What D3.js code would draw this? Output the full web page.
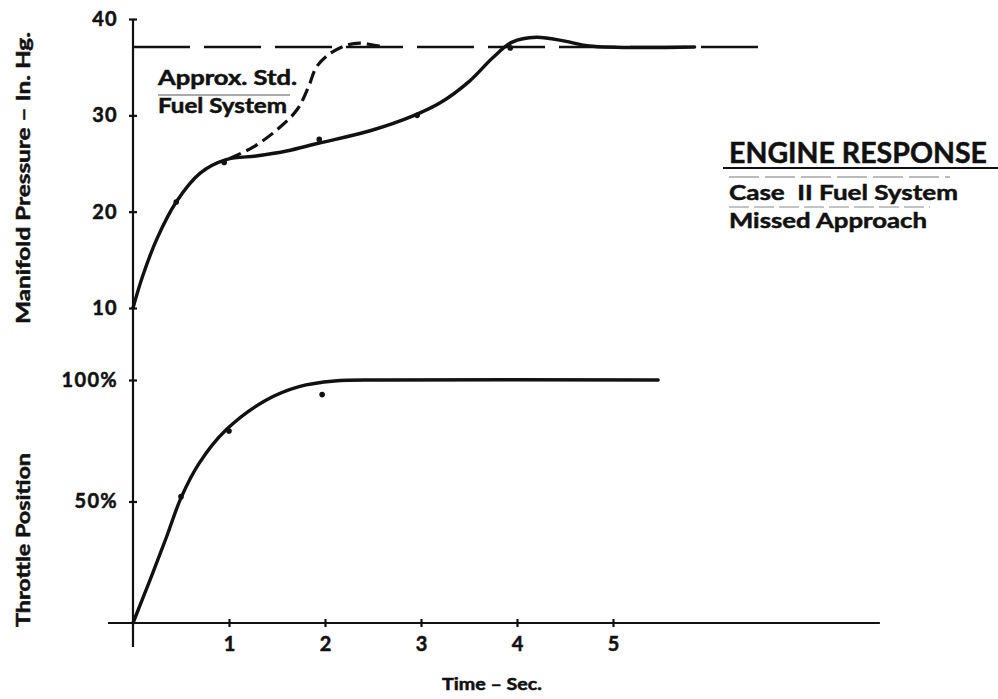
<!DOCTYPE html>
<html>
<head>
<meta charset="utf-8">
<script src="https://cdn.jsdelivr.net/npm/d3@7"></script>
<style>
  body { margin: 0; background: #fff; }
  text { font-family: Lato, "DejaVu Sans", sans-serif; font-weight: 700; fill: #111;
         stroke: #111; stroke-width: 0.5px; paint-order: stroke; }
</style>
</head>
<body>
<div id="chart"></div>
<script>
// Dati (tempo in secondi)
const timeTicks = [1, 2, 3, 4, 5];
const pressureTicks = [10, 20, 30, 40];
const throttleTicks = [50, 100];
const stdPressureLevel = 37.1;

// Pressione collettore - Case II (curva continua)
const caseTime = [0, 0.1, 0.25, 0.45, 0.7, 0.97, 1.3, 1.6, 1.93, 2.47, 2.93, 3.2, 3.5, 3.75, 3.95, 4.2, 4.5, 4.75, 5.85];
const casePressure = [10, 13.3, 17.2, 21.0, 24.0, 25.4, 25.8, 26.3, 27.1, 28.4, 30.0, 31.3, 33.5, 36.0, 37.6, 38.1, 37.7, 37.2, 37.1];
const caseDotTime = [0.45, 0.95, 1.94, 2.96, 3.93];
const caseDotPressure = [21.0, 25.1, 27.5, 30.0, 37.0];

// Sistema standard approssimato (curva tratteggiata)
const stdTime = [1.0, 1.25, 1.5, 1.71, 1.83, 1.91, 2.05, 2.23, 2.36, 2.5, 2.62];
const stdPressure = [25.5, 26.7, 28.5, 30.6, 33.0, 35.0, 36.4, 37.3, 37.5, 37.3, 37.1];
const stdLineTime = [0, 6.6];

// Posizione farfalla
const throttleTime = [0, 0.18, 0.35, 0.5, 0.69, 0.97, 1.38, 1.73, 2.1, 2.6, 5.47];
const throttleValue = [0, 18, 35.5, 51.5, 65.8, 79.5, 91.6, 97.3, 99.6, 100, 100];
const throttleDotTime = [0.5, 1.0, 1.97];
const throttleDotValue = [52, 79, 94];

const width = 998;
const height = 699;

const svg = d3.select("#chart")
    .append("svg")
    .attr("width", width)
    .attr("height", height);

// Scale
const x = d3.scaleLinear().domain([0, 5]).range([133, 613]);
const yP = d3.scaleLinear().domain([10, 40]).range([308, 19]);
const yT = d3.scaleLinear().domain([0, 100]).range([623, 380]);

const zip = (a, b) => a.map((v, i) => [v, b[i]]);

// Assi
const axisColor = "#111";
svg.append("line")
    .attr("x1", x(0)).attr("x2", x(0))
    .attr("y1", yP(40)).attr("y2", yT(0) + 24)
    .attr("stroke", axisColor).attr("stroke-width", 2.2);

svg.append("line")
    .attr("x1", x(-0.26)).attr("x2", x(7.78))
    .attr("y1", yT(0)).attr("y2", yT(0))
    .attr("stroke", axisColor).attr("stroke-width", 2.2);

function styleAxis(g, horizontal) {
    g.select(".domain").remove();
    g.selectAll(".tick line")
        .attr("stroke", axisColor)
        .attr("stroke-width", 2.2)
        .attr(horizontal ? "y1" : "x1", -4)
        .attr(horizontal ? "y2" : "x2", 4);
    g.selectAll(".tick text")
        .style("font-size", "20px")
        .style("font-weight", 700)
        .style("letter-spacing", horizontal ? "0px" : "1.3px")
        .attr("fill", "#111");
}

svg.append("g")
    .attr("transform", `translate(${x(0)},0)`)
    .call(d3.axisLeft(yP).tickValues(pressureTicks).tickSize(4).tickPadding(11).tickFormat(d3.format("d")))
    .call(g => styleAxis(g, false));

svg.append("g")
    .attr("transform", `translate(${x(0)},0)`)
    .call(d3.axisLeft(yT).tickValues(throttleTicks).tickSize(4).tickPadding(11).tickFormat(d => d + "%"))
    .call(g => styleAxis(g, false));

svg.append("g")
    .attr("transform", `translate(0,${yT(0)})`)
    .call(d3.axisBottom(x).tickValues(timeTicks).tickSize(4).tickPadding(10).tickFormat(d3.format("d")))
    .call(g => styleAxis(g, true));

// Linea di riferimento tratteggiata
svg.append("line")
    .attr("x1", x(stdLineTime[0])).attr("x2", x(stdLineTime[1]))
    .attr("y1", yP(stdPressureLevel)).attr("y2", yP(stdPressureLevel))
    .attr("stroke", "#111").attr("stroke-width", 2.4)
    .attr("stroke-dasharray", "57,14");

// Curve
const linePress = d3.line()
    .x(d => x(d[0])).y(d => yP(d[1]))
    .curve(d3.curveCatmullRom.alpha(0.5));
const lineThrottle = d3.line()
    .x(d => x(d[0])).y(d => yT(d[1]))
    .curve(d3.curveCatmullRom.alpha(0.5));

svg.append("path")
    .datum(zip(stdTime, stdPressure))
    .attr("d", linePress)
    .attr("fill", "none").attr("stroke", "#111")
    .attr("stroke-width", 3.2)
    .attr("stroke-dasharray", "13,6");

svg.append("path")
    .datum(zip(caseTime, casePressure))
    .attr("d", linePress)
    .attr("fill", "none").attr("stroke", "#111")
    .attr("stroke-width", 3.4)
    .attr("stroke-linecap", "round");

svg.append("path")
    .datum(zip(throttleTime, throttleValue))
    .attr("d", lineThrottle)
    .attr("fill", "none").attr("stroke", "#111")
    .attr("stroke-width", 3.4)
    .attr("stroke-linecap", "round");

// Punti sperimentali
svg.selectAll(".pdot")
    .data(zip(caseDotTime, caseDotPressure))
    .join("circle")
    .attr("class", "pdot")
    .attr("cx", d => x(d[0])).attr("cy", d => yP(d[1]))
    .attr("r", 2.8).attr("fill", "#111");

svg.selectAll(".tdot")
    .data(zip(throttleDotTime, throttleDotValue))
    .join("circle")
    .attr("class", "tdot")
    .attr("cx", d => x(d[0])).attr("cy", d => yT(d[1]))
    .attr("r", 2.8).attr("fill", "#111");

// Titoli assi
svg.append("text")
    .attr("transform", "translate(30,178) rotate(-90)")
    .attr("text-anchor", "middle")
    .attr("textLength", 292).attr("lengthAdjust", "spacingAndGlyphs")
    .style("font-size", "18px")
    .text("Manifold Pressure – In. Hg.");

svg.append("text")
    .attr("transform", "translate(30,540) rotate(-90)")
    .attr("text-anchor", "middle")
    .attr("textLength", 174).attr("lengthAdjust", "spacingAndGlyphs")
    .style("font-size", "18px")
    .text("Throttle Position");

svg.append("text")
    .attr("x", 492).attr("y", 690)
    .attr("text-anchor", "middle")
    .attr("textLength", 100).attr("lengthAdjust", "spacingAndGlyphs")
    .style("font-size", "17px")
    .text("Time – Sec.");

// Etichetta curva standard
svg.append("text")
    .attr("x", 158).attr("y", 85)
    .attr("textLength", 139).attr("lengthAdjust", "spacingAndGlyphs")
    .style("font-size", "20px")
    .text("Approx. Std.");
svg.append("line")
    .attr("x1", 158).attr("x2", 290).attr("y1", 95).attr("y2", 95)
    .attr("stroke", "#555").attr("stroke-width", 1);
svg.append("text")
    .attr("x", 158).attr("y", 113)
    .attr("textLength", 129).attr("lengthAdjust", "spacingAndGlyphs")
    .style("font-size", "20px")
    .text("Fuel System");

// Titolo a destra
svg.append("text")
    .attr("x", 729).attr("y", 163)
    .attr("textLength", 258).attr("lengthAdjust", "spacingAndGlyphs")
    .style("font-size", "29px")
    .text("ENGINE RESPONSE");
svg.append("line")
    .attr("x1", 723).attr("x2", 998).attr("y1", 168).attr("y2", 168)
    .attr("stroke", "#111").attr("stroke-width", 2);
svg.append("line")
    .attr("x1", 729).attr("x2", 950).attr("y1", 177).attr("y2", 177)
    .attr("stroke", "#777").attr("stroke-width", 1)
    .attr("stroke-dasharray", "30,6");
svg.append("text")
    .attr("x", 729).attr("y", 200)
    .attr("textLength", 229).attr("lengthAdjust", "spacingAndGlyphs")
    .attr("xml:space", "preserve")
    .style("font-size", "21px")
    .style("white-space", "pre")
    .text("Case  II Fuel System");
svg.append("line")
    .attr("x1", 729).attr("x2", 930).attr("y1", 207).attr("y2", 207)
    .attr("stroke", "#888").attr("stroke-width", 1)
    .attr("stroke-dasharray", "20,5");
svg.append("text")
    .attr("x", 729).attr("y", 228)
    .attr("textLength", 198).attr("lengthAdjust", "spacingAndGlyphs")
    .style("font-size", "21px")
    .style("white-space", "pre")
    .text("Missed Approach");
</script>
</body>
</html>
